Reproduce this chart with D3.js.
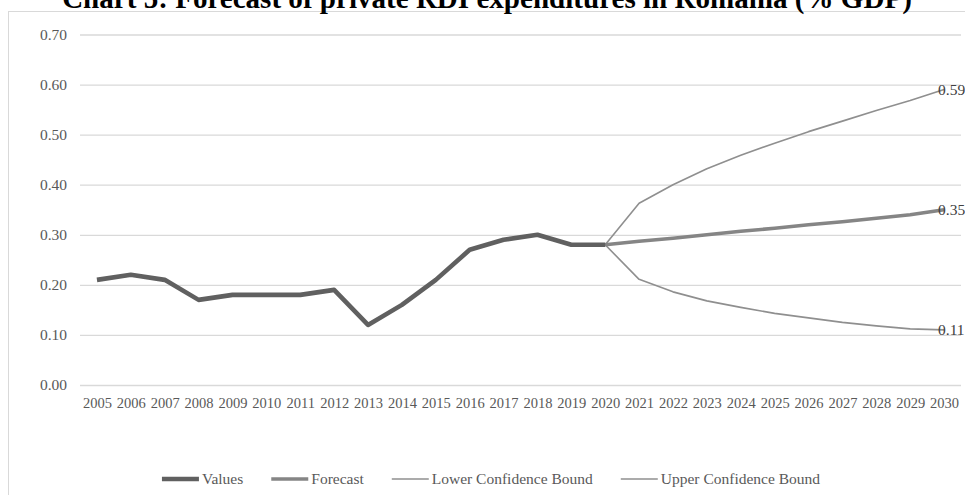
<!DOCTYPE html>
<html>
<head>
<meta charset="utf-8">
<script src="https://cdn.jsdelivr.net/npm/d3@7"></script>
<style>
  html, body { margin: 0; padding: 0; background: #ffffff; }
  svg { display: block; }
</style>
</head>
<body>
<svg id="chart" width="965" height="495"></svg>
<script>
// Private RDI expenditures in Romania, % of GDP: observed 2005-2020, forecast to 2030
const years = ["2005","2006","2007","2008","2009","2010","2011","2012","2013","2014","2015",
               "2016","2017","2018","2019","2020","2021","2022","2023","2024","2025","2026",
               "2027","2028","2029","2030"];
const valueYears = ["2005","2006","2007","2008","2009","2010","2011","2012","2013","2014","2015",
                    "2016","2017","2018","2019","2020"];
const values = [0.21, 0.22, 0.21, 0.17, 0.18, 0.18, 0.18, 0.19, 0.12, 0.16, 0.21,
                0.27, 0.29, 0.30, 0.28, 0.28];
const forecastYears = ["2020","2021","2022","2023","2024","2025","2026","2027","2028","2029","2030"];
const forecast = [0.28, 0.287, 0.293, 0.300, 0.307, 0.313, 0.320, 0.326, 0.333, 0.340, 0.35];
const lowerBound = [0.28, 0.211, 0.186, 0.168, 0.155, 0.143, 0.134, 0.125, 0.118, 0.112, 0.11];
const upperBound = [0.28, 0.363, 0.400, 0.432, 0.459, 0.483, 0.506, 0.527, 0.548, 0.568, 0.59];
const yTicks = [0, 0.1, 0.2, 0.3, 0.4, 0.5, 0.6, 0.7];
const seriesNames = ["Values", "Forecast", "Lower Confidence Bound", "Upper Confidence Bound"];
const titleText = "Chart 5: Forecast of private RDI expenditures in Romania (% GDP)";

const FONT = "'Liberation Serif', 'Times New Roman', serif";
const svg = d3.select("#chart");

// Plot geometry
const plotLeft = 80, plotRight = 961, plotTop = 34.5, plotBottom = 385;

const x = d3.scalePoint().domain(years).range([plotLeft, plotRight]).padding(0.5);
const y = d3.scaleLinear().domain([0, 0.7]).range([plotBottom, plotTop]);

// Chart frame (partly outside the visible area)
svg.append("rect")
  .attr("x", 8.5).attr("y", 11.5)
  .attr("width", 1000).attr("height", 600)
  .attr("fill", "none").attr("stroke", "#d9d9d9").attr("stroke-width", 1);

// Title, sized to span its heading width
const titleWidth = 850;
const title = svg.append("text")
  .attr("x", 487).attr("y", 8)
  .attr("text-anchor", "middle")
  .attr("font-family", FONT).attr("font-weight", "bold").attr("font-size", 26)
  .attr("fill", "#000000")
  .text(titleText);
const natural = title.node().getComputedTextLength();
title.attr("font-size", 26 * titleWidth / natural);

// Y axis with gridlines
const yAxis = svg.append("g")
  .attr("transform", `translate(${plotLeft},0)`)
  .call(d3.axisLeft(y).tickValues(yTicks).tickFormat(d3.format(".2f"))
        .tickSize(-(plotRight - plotLeft)).tickPadding(13));
yAxis.select(".domain").remove();
yAxis.selectAll(".tick line").attr("stroke", "#d9d9d9").attr("stroke-width", 1.3);
yAxis.selectAll(".tick text")
  .attr("font-family", FONT).attr("font-size", 15.5).attr("fill", "#595959");

// X axis labels
const xAxis = svg.append("g")
  .attr("transform", `translate(0,${plotBottom})`)
  .call(d3.axisBottom(x).tickSize(0).tickPadding(13));
xAxis.select(".domain").remove();
xAxis.selectAll(".tick text")
  .attr("font-family", FONT).attr("font-size", 14.5).attr("fill", "#595959");

// Series lines
const line = d3.line().x(d => x(d[0])).y(d => y(d[1]));
const zip = (ks, vs) => ks.map((k, i) => [k, vs[i]]);

const series = [
  { name: seriesNames[2], keys: forecastYears, vals: lowerBound, color: "#8f8f8f", width: 1.6, label: true },
  { name: seriesNames[3], keys: forecastYears, vals: upperBound, color: "#8f8f8f", width: 1.6, label: true },
  { name: seriesNames[1], keys: forecastYears, vals: forecast, color: "#858585", width: 3.6, label: true },
  { name: seriesNames[0], keys: valueYears, vals: values, color: "#606060", width: 4.6, label: false }
];

series.forEach(s => {
  svg.append("path")
    .datum(zip(s.keys, s.vals))
    .attr("d", line)
    .attr("fill", "none")
    .attr("stroke", s.color)
    .attr("stroke-width", s.width)
    .attr("stroke-linejoin", "round");
});

// End-of-series value labels
const fmt = d3.format(".2f");
series.filter(s => s.label).forEach(s => {
  const k = s.keys[s.keys.length - 1], v = s.vals[s.vals.length - 1];
  svg.append("text")
    .attr("x", x(k) - 6).attr("y", y(v))
    .attr("dy", "0.35em")
    .attr("font-family", FONT).attr("font-size", 15.5).attr("fill", "#404040")
    .text(fmt(v));
});

// Legend
const legendStyles = [
  { color: "#606060", width: 4.6 },
  { color: "#858585", width: 3.6 },
  { color: "#8f8f8f", width: 1.6 },
  { color: "#8f8f8f", width: 1.6 }
];
const legendY = 479, sampleLen = 37, textGap = 3, itemGap = 28;
const legend = svg.append("g");
let cursor = 0;
seriesNames.forEach((name, i) => {
  const g = legend.append("g").attr("transform", `translate(${cursor},0)`);
  g.append("line")
    .attr("x1", 0).attr("x2", sampleLen)
    .attr("y1", legendY).attr("y2", legendY)
    .attr("stroke", legendStyles[i].color).attr("stroke-width", legendStyles[i].width);
  const t = g.append("text")
    .attr("x", sampleLen + textGap).attr("y", legendY).attr("dy", "0.35em")
    .attr("font-family", FONT).attr("font-size", 15.5).attr("fill", "#595959")
    .text(name);
  cursor += sampleLen + textGap + t.node().getComputedTextLength() + itemGap;
});
const legendWidth = cursor - itemGap;
legend.attr("transform", `translate(${491 - legendWidth / 2},0)`);
</script>
</body>
</html>
